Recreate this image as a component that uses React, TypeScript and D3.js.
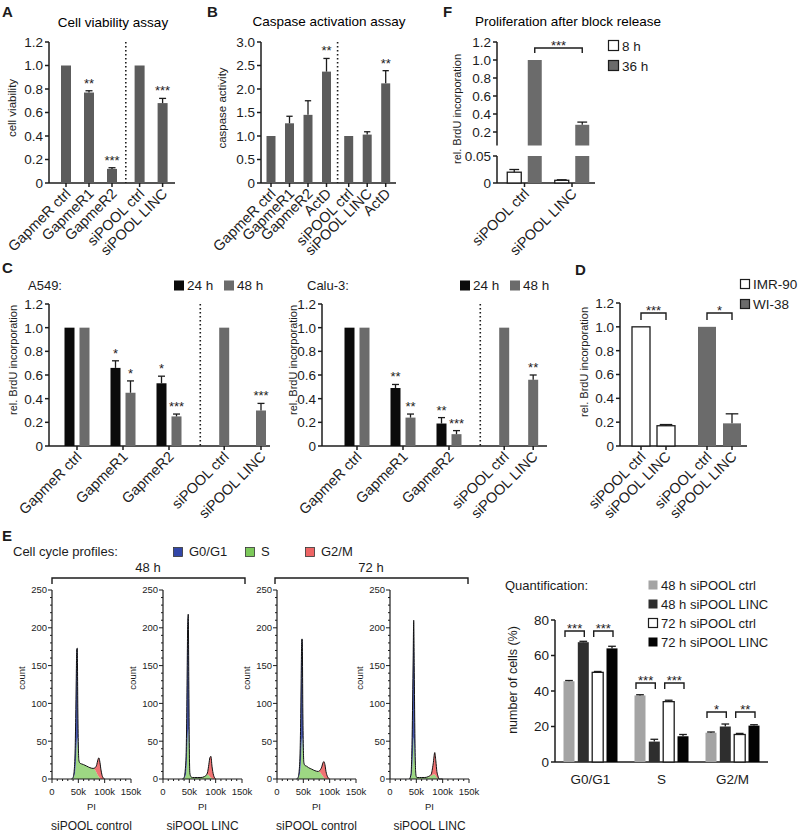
import React from "react";
import * as d3 from "d3";

const FONT = "'Liberation Sans', Arial, Helvetica, sans-serif";
const INK = "#1c1c1c";
const BAR_GRAY = "#5c5c5c";
const C_GRAY = "#6b6b6b";
const C_BLACK = "#0b0b0b";
const TICK_FS = 13.5;
const XLAB_FS = 14.5;
const SIG_FS = 13;
const AX_W = 1.5;

// ---------- Panel A ----------
const A_CATS = ["GapmeR ctrl", "GapmeR1", "GapmeR2", "siPOOL ctrl", "siPOOL LINC"];
const A_VALS = [1.0, 0.77, 0.12, 1.0, 0.68];
const A_ERRS = [0, 0.015, 0.01, 0, 0.04];
const A_SIG = ["", "**", "***", "", "***"];
const A_TICKS = [0, 0.2, 0.4, 0.6, 0.8, 1.0, 1.2];

// ---------- Panel B ----------
const B_CATS = ["GapmeR ctrl", "GapmeR1", "GapmeR2", "ActD", "siPOOL ctrl", "siPOOL LINC", "ActD"];
const B_VALS = [1.0, 1.27, 1.45, 2.37, 1.0, 1.03, 2.12];
const B_ERRS = [0, 0.15, 0.3, 0.28, 0, 0.06, 0.27];
const B_SIG = ["", "", "", "**", "", "", "**"];
const B_TICKS = [0, 0.5, 1.0, 1.5, 2.0, 2.5, 3.0];

// ---------- Panel C ----------
const C_GROUPS = ["GapmeR ctrl", "GapmeR1", "GapmeR2"];
const C_SI = ["siPOOL ctrl", "siPOOL LINC"];
const C_SERIES = ["24 h", "48 h"];
const A549_24 = [1.0, 0.66, 0.53];
const A549_24_ERR = [0, 0.06, 0.06];
const A549_24_SIG = ["", "*", "*"];
const A549_48 = [1.0, 0.45, 0.25];
const A549_48_ERR = [0, 0.1, 0.02];
const A549_48_SIG = ["", "*", "***"];
const A549_SI = [1.0, 0.3];
const A549_SI_ERR = [0, 0.06];
const A549_SI_SIG = ["", "***"];
const CALU_24 = [1.0, 0.49, 0.19];
const CALU_24_ERR = [0, 0.03, 0.05];
const CALU_24_SIG = ["", "**", "**"];
const CALU_48 = [1.0, 0.24, 0.1];
const CALU_48_ERR = [0, 0.03, 0.03];
const CALU_48_SIG = ["", "**", "***"];
const CALU_SI = [1.0, 0.56];
const CALU_SI_ERR = [0, 0.04];
const CALU_SI_SIG = ["", "**"];
const C_TICKS = [0, 0.2, 0.4, 0.6, 0.8, 1.0, 1.2];

// ---------- Panel D ----------
const D_CATS = ["siPOOL ctrl", "siPOOL LINC", "siPOOL ctrl", "siPOOL LINC"];
const D_LINES = ["IMR-90", "WI-38"];
const D_VALS = [1.0, 0.17, 1.0, 0.19];
const D_ERRS = [0, 0.01, 0, 0.08];
const D_SIG = ["***", "*"];

// ---------- Panel F ----------
const F_CATS = ["siPOOL ctrl", "siPOOL LINC"];
const F_SERIES = ["8 h", "36 h"];
const F_8H = [0.02, 0.005];
const F_8H_ERR = [0.005, 0.001];
const F_36H = [1.0, 0.28];
const F_36H_ERR = [0, 0.03];
const F_UP_TICKS = [0.2, 0.4, 0.6, 0.8, 1.0, 1.2];
const F_LOW_TICKS = [0, 0.05];

// ---------- Panel E histograms ----------
const PI_K = [37, 40, 42, 44, 45, 46, 47, 48, 49, 50, 51, 53, 56, 60, 66, 72, 78, 82, 85, 87, 89, 91, 93, 96, 100];
const H1_S = [0, 1, 4, 10, 18, 32, 48, 55, 45, 30, 24, 21, 20, 19, 17, 15, 14, 12, 8, 5, 3, 1, 0, 0, 0];
const H1_G1 = [0, 1, 6, 30, 62, 98, 124, 118, 50, 15, 1, 0, 0, 0, 0, 0, 0, 0, 0, 0, 0, 0, 0, 0, 0];
const H1_G2 = [0, 0, 0, 0, 0, 0, 0, 0, 0, 0, 0, 0, 0, 0, 0, 0, 0, 3, 11, 20, 25, 21, 12, 3, 0];
const H2_S = [0, 1, 3, 8, 20, 40, 58, 66, 50, 22, 6, 3, 2, 2, 2, 2, 3, 5, 6, 5, 3, 2, 1, 0, 0];
const H2_G1 = [0, 1, 7, 27, 60, 110, 152, 152, 80, 18, 2, 0, 0, 0, 0, 0, 0, 0, 0, 0, 0, 0, 0, 0, 0];
const H2_G2 = [0, 0, 0, 0, 0, 0, 0, 0, 0, 0, 0, 0, 0, 0, 0, 0, 0, 0, 4, 14, 25, 28, 16, 5, 0];
const H3_S = [0, 1, 4, 10, 18, 32, 50, 55, 42, 28, 20, 18, 17, 15, 13, 11, 10, 9, 6, 4, 2, 1, 0, 0, 0];
const H3_G1 = [0, 1, 6, 30, 62, 108, 135, 130, 53, 14, 2, 0, 0, 0, 0, 0, 0, 0, 0, 0, 0, 0, 0, 0, 0];
const H3_G2 = [0, 0, 0, 0, 0, 0, 0, 0, 0, 0, 0, 0, 0, 0, 0, 0, 0, 3, 10, 17, 21, 18, 10, 3, 0];
const H4_S = [0, 3, 12, 40, 55, 45, 28, 12, 5, 3, 2, 2, 2, 2, 2, 3, 4, 6, 6, 4, 2, 1, 0, 0, 0];
const H4_G1 = [0, 4, 43, 120, 155, 105, 47, 13, 2, 0, 0, 0, 0, 0, 0, 0, 0, 0, 0, 0, 0, 0, 0, 0, 0];
const H4_G2 = [0, 0, 0, 0, 0, 0, 0, 0, 0, 0, 0, 0, 0, 0, 0, 0, 2, 14, 29, 20, 8, 3, 0, 0, 0];
const H_SUBS = ["siPOOL control", "siPOOL LINC", "siPOOL control", "siPOOL LINC"];
const H_PHASES = ["G0/G1", "S", "G2/M"];
const H_Y_TICKS = [0, 50, 100, 150, 200, 250];
const H_X_TICKS = [0, 50, 100, 150];

// ---------- Panel E quantification ----------
const Q_CATS = ["G0/G1", "S", "G2/M"];
const Q_SERIES = ["48 h siPOOL ctrl", "48 h siPOOL LINC", "72 h siPOOL ctrl", "72 h siPOOL LINC"];
const Q_48C = [45.5, 37.5, 16.5];
const Q_48C_ERR = [0.4, 0.4, 0.4];
const Q_48L = [67.5, 11.5, 20];
const Q_48L_ERR = [0.5, 1.3, 1.4];
const Q_72C = [50.5, 34, 15.5];
const Q_72C_ERR = [0.5, 0.8, 0.6];
const Q_72L = [64, 14.5, 20.5];
const Q_72L_ERR = [1.2, 1.0, 0.5];
const Q_SIG_48 = ["***", "***", "*"];
const Q_SIG_72 = ["***", "***", "**"];
const Q_TICKS = [0, 20, 40, 60, 80];

const fmt1 = (t: number) => (t === 0 ? "0" : t.toFixed(1));

function YAxis({ x, y, ticks, fmt = fmt1, fs = TICK_FS, len = 4, sw = AX_W }: any) {
  const r = y.range();
  return (
    <g>
      <line x1={x} x2={x} y1={r[0]} y2={r[1]} stroke={INK} strokeWidth={sw} />
      {ticks.map((t: number) => (
        <g key={t}>
          <line x1={x - len} x2={x} y1={y(t)} y2={y(t)} stroke={INK} strokeWidth={sw} />
          <text x={x - len - 2} y={y(t)} dy="0.36em" textAnchor="end" fontSize={fs} fill={INK}>
            {fmt(t)}
          </text>
        </g>
      ))}
    </g>
  );
}

function XBase({ x0, x1, y0 }: any) {
  return <line x1={x0} x2={x1} y1={y0} y2={y0} stroke={INK} strokeWidth={AX_W} />;
}

function XRotLabels({ xs, labels, y0, fs = XLAB_FS }: any) {
  return (
    <g>
      {labels.map((l: string, i: number) => (
        <g key={i}>
          <line x1={xs[i]} x2={xs[i]} y1={y0} y2={y0 + 4} stroke={INK} strokeWidth={AX_W} />
          <text
            transform={`translate(${xs[i] + 2},${y0 + 8}) rotate(-45)`}
            dy="0.35em"
            textAnchor="end"
            fontSize={fs}
            fill={INK}
          >
            {l}
          </text>
        </g>
      ))}
    </g>
  );
}

function YLabel({ x, y, text, fs = 11 }: any) {
  return (
    <text transform={`translate(${x},${y}) rotate(-90)`} textAnchor="middle" fontSize={fs} fill={INK}>
      {text}
    </text>
  );
}

function Dotted({ x, y0, y1 }: any) {
  return <line x1={x} x2={x} y1={y0} y2={y1} stroke={INK} strokeWidth={1.6} strokeDasharray="1.5,2.5" />;
}

function Bar({ cx, bw, y, v, e = 0, fill, stroke, sig, sigFs = SIG_FS }: any) {
  const base = y(0);
  const top = y(v);
  const et = y(v + e);
  return (
    <g>
      <rect
        x={cx - bw / 2}
        y={top}
        width={bw}
        height={base - top}
        fill={fill}
        stroke={stroke || "none"}
        strokeWidth={stroke ? 1.3 : 0}
      />
      {e > 0 && (
        <g stroke={INK} strokeWidth={1.3}>
          <line x1={cx} x2={cx} y1={top} y2={et} />
          <line x1={cx - bw * 0.35} x2={cx + bw * 0.35} y1={et} y2={et} />
        </g>
      )}
      {sig && (
        <text x={cx} y={et - 3} textAnchor="middle" fontSize={sigFs} fill={INK}>
          {sig}
        </text>
      )}
    </g>
  );
}

function Bracket({ x1, x2, y, leg = 6, text, fs = SIG_FS }: any) {
  return (
    <g>
      <path d={`M${x1},${y + leg}V${y}H${x2}V${y + leg}`} fill="none" stroke={INK} strokeWidth={1.4} />
      <text x={(x1 + x2) / 2} y={y + 1.5} textAnchor="middle" fontSize={fs} fill={INK}>
        {text}
      </text>
    </g>
  );
}

function Letter({ x, y, t }: any) {
  return (
    <text x={x} y={y} fontSize={15} fontWeight="bold" fill={INK}>
      {t}
    </text>
  );
}

function PanelA() {
  const y = d3.scaleLinear().domain([0, 1.2]).range([183, 42]);
  const slot = d3.scaleLinear().domain([0, 1]).range([66, 89]);
  const pos = [0, 1, 2, 3.2, 4.2];
  const xs = pos.map((p) => slot(p));
  return (
    <g>
      <Letter x={2} y={17} t="A" />
      <text x={113} y={27} fontSize={13.5} textAnchor="middle">Cell viability assay</text>
      <YLabel x={16} y={108} text="cell viability" fs={11.5} />
      <YAxis x={49} y={y} ticks={A_TICKS} />
      <XBase x0={49} x1={175} y0={y(0)} />
      <Dotted x={slot(2.6)} y0={y(1.2)} y1={y(0)} />
      {A_VALS.map((v, i) => (
        <Bar key={i} cx={xs[i]} bw={10} y={y} v={v} e={A_ERRS[i]} fill={BAR_GRAY} sig={A_SIG[i]} />
      ))}
      <XRotLabels xs={xs} labels={A_CATS} y0={y(0)} />
    </g>
  );
}

function PanelB() {
  const y = d3.scaleLinear().domain([0, 3.0]).range([183, 42]);
  const slot = d3.scaleLinear().domain([0, 1]).range([271, 289.5]);
  const pos = [0, 1, 2, 3, 4.2, 5.2, 6.2];
  const xs = pos.map((p) => slot(p));
  return (
    <g>
      <Letter x={207} y={17} t="B" />
      <text x={329} y={26} fontSize={13.5} textAnchor="middle">Caspase activation assay</text>
      <YLabel x={226} y={108} text="caspase activity" fs={11.5} />
      <YAxis x={261} y={y} ticks={B_TICKS} />
      <XBase x0={261} x1={396} y0={y(0)} />
      <Dotted x={slot(3.6)} y0={y(3.0)} y1={y(0)} />
      {B_VALS.map((v, i) => (
        <Bar key={i} cx={xs[i]} bw={9} y={y} v={v} e={B_ERRS[i]} fill={BAR_GRAY} sig={B_SIG[i]} />
      ))}
      <XRotLabels xs={xs} labels={B_CATS} y0={y(0)} />
    </g>
  );
}

function CLegend({ x, y }: any) {
  return (
    <g>
      {C_SERIES.map((s, i) => (
        <g key={s} transform={`translate(${x + i * 50},${y})`}>
          <rect x={0} y={-9.5} width={10} height={10} fill={i === 0 ? C_BLACK : C_GRAY} />
          <text x={13} y={0} fontSize={13.5} fill={INK}>{s}</text>
        </g>
      ))}
    </g>
  );
}

function CPanel({ name, ax, axEnd, c0, v24, e24, s24, v48, e48, s48, vsi, esi, ssi, siPos, legendX, labelX }: any) {
  const y = d3.scaleLinear().domain([0, 1.2]).range([446, 304]);
  const slot = d3.scaleLinear().domain([0, 1]).range([c0, c0 + 46]);
  const off = 7.5;
  const gx = C_GROUPS.map((_, i) => slot(i));
  const sx = siPos.map((p: number) => slot(p));
  return (
    <g>
      <text x={name.x} y={290} fontSize={13} fill={INK}>{name.t}</text>
      <CLegend x={legendX} y={290} />
      <YLabel x={labelX} y={360} text="rel. BrdU incorporation" />
      <YAxis x={ax} y={y} ticks={C_TICKS} />
      <XBase x0={ax} x1={axEnd} y0={y(0)} />
      <Dotted x={slot(2.68)} y0={y(1.2)} y1={y(0)} />
      {v24.map((v: number, i: number) => (
        <Bar key={"a" + i} cx={gx[i] - off} bw={10} y={y} v={v} e={e24[i]} fill={C_BLACK} sig={s24[i]} />
      ))}
      {v48.map((v: number, i: number) => (
        <Bar key={"b" + i} cx={gx[i] + off} bw={10} y={y} v={v} e={e48[i]} fill={C_GRAY} sig={s48[i]} />
      ))}
      {vsi.map((v: number, i: number) => (
        <Bar key={"c" + i} cx={sx[i]} bw={10} y={y} v={v} e={esi[i]} fill={C_GRAY} sig={ssi[i]} />
      ))}
      <XRotLabels xs={[...gx, ...sx]} labels={[...C_GROUPS, ...C_SI]} y0={y(0)} />
    </g>
  );
}

function PanelD() {
  const y = d3.scaleLinear().domain([0, 1.2]).range([446, 303]);
  const slot = d3.scaleLinear().domain([0, 1]).range([653.5, 719.5]);
  const xs = [slot(0) - 12.5, slot(0) + 12.5, slot(1) - 12.5, slot(1) + 12.5];
  return (
    <g>
      <Letter x={575} y={275} t="D" />
      {D_LINES.map((l, i) => (
        <g key={l}>
          <rect x={740.5} y={279.5 + i * 20} width={9} height={9} fill={i === 0 ? "#fff" : C_GRAY} stroke={INK} strokeWidth={1.2} />
          <text x={753} y={288.5 + i * 20} fontSize={13.5} fill={INK}>{l}</text>
        </g>
      ))}
      <YLabel x={588} y={362} text="rel. BrdU incorporation" />
      <YAxis x={620} y={y} ticks={C_TICKS} />
      <XBase x0={620} x1={747} y0={y(0)} />
      {D_VALS.map((v, i) => (
        <Bar
          key={i}
          cx={xs[i]}
          bw={18}
          y={y}
          v={v}
          e={D_ERRS[i]}
          fill={i < 2 ? "#fff" : C_GRAY}
          stroke={i < 2 ? INK : undefined}
        />
      ))}
      {D_SIG.map((s, g) => (
        <Bracket key={g} x1={xs[g * 2]} x2={xs[g * 2 + 1]} y={313} leg={7} text={s} />
      ))}
      <XRotLabels xs={xs} labels={D_CATS} y0={y(0)} />
    </g>
  );
}

function PanelF() {
  const yU = d3.scaleLinear().domain([0.05, 1.2]).range([145.5, 42]);
  const yL = d3.scaleLinear().domain([0, 0.05]).range([183, 156]);
  const slot = d3.scaleLinear().domain([0, 1]).range([524.5, 572]);
  const gx = F_CATS.map((_, i) => slot(i));
  const off = 10.25;
  const bw = 14;
  const errG = (cx: number, y0: number, y1: number) => (
    <g key="e" stroke={INK} strokeWidth={1.3}>
      <line x1={cx} x2={cx} y1={y0} y2={y1} />
      <line x1={cx - bw * 0.35} x2={cx + bw * 0.35} y1={y1} y2={y1} />
    </g>
  );
  const drawBar = (cx: number, v: number, e: number, fill: string, stroke?: string) => {
    const parts: any[] = [];
    const sw = stroke ? 1.3 : 0;
    if (v <= 0.05) {
      parts.push(<rect key="l" x={cx - bw / 2} y={yL(v)} width={bw} height={yL(0) - yL(v)} fill={fill} stroke={stroke || "none"} strokeWidth={sw} />);
      if (e > 0) parts.push(errG(cx, yL(v), yL(v + e)));
    } else {
      parts.push(<rect key="l" x={cx - bw / 2} y={yL(0.05)} width={bw} height={yL(0) - yL(0.05)} fill={fill} />);
      parts.push(<rect key="u" x={cx - bw / 2} y={yU(v)} width={bw} height={yU(0.05) - yU(v)} fill={fill} />);
      if (e > 0) parts.push(errG(cx, yU(v), yU(v + e)));
    }
    return parts;
  };
  return (
    <g>
      <Letter x={443} y={17} t="F" />
      <text x={568} y={26} fontSize={13.5} textAnchor="middle">Proliferation after block release</text>
      <YLabel x={461} y={109} text="rel. BrdU incorporation" />
      <YAxis x={497} y={yU} ticks={F_UP_TICKS} />
      <YAxis x={497} y={yL} ticks={F_LOW_TICKS} fmt={(t: number) => (t === 0 ? "0" : "0.05")} />
      <XBase x0={497} x1={595} y0={yL(0)} />
      {gx.map((cx, i) => (
        <g key={i}>
          {drawBar(cx - off, F_8H[i], F_8H_ERR[i], "#fff", INK)}
          {drawBar(cx + off, F_36H[i], F_36H_ERR[i], C_GRAY)}
        </g>
      ))}
      <Bracket x1={gx[0] + off} x2={gx[1] + off} y={48} leg={5} text="***" />
      {F_SERIES.map((s, i) => (
        <g key={s}>
          <rect x={608.5} y={40.5 + i * 20} width={10} height={10} fill={i === 0 ? "#fff" : C_GRAY} stroke={INK} strokeWidth={1.2} />
          <text x={622} y={50.5 + i * 20} fontSize={13.5} fill={INK}>{s}</text>
        </g>
      ))}
      <XRotLabels xs={gx} labels={F_CATS} y0={yL(0)} />
    </g>
  );
}

const PHASE_COLORS = ["#7cc95a", "#3246a8", "#ee6464"];

function Hist({ ax, S, G1, G2, sub }: any) {
  const x = d3.scaleLinear().domain([0, 150]).range([ax, ax + 79]);
  const y = d3.scaleLinear().domain([0, 250]).range([779, 590]);
  const rows = PI_K.map((k, i) => ({ k, S: S[i], G1: G1[i], G2: G2[i] }));
  const stack = d3.stack<any>().keys(["S", "G1", "G2"])(rows);
  const area = d3
    .area<any>()
    .x((d) => x(d.data.k))
    .y0((d) => y(d[0]))
    .y1((d) => y(d[1]))
    .curve(d3.curveMonotoneX);
  const top = d3
    .line<any>()
    .x((d) => x(d.data.k))
    .y((d) => y(d[1]))
    .curve(d3.curveMonotoneX);
  const minorY = d3.range(0, 251, 10);
  const minorX = d3.range(0, 151, 10);
  return (
    <g>
      {stack.map((layer, li) => (
        <path key={li} d={area(layer) || ""} fill={PHASE_COLORS[li]} fillOpacity={li === 0 ? 0.75 : 0.9} />
      ))}
      <path d={top(stack[2]) || ""} fill="none" stroke="#111" strokeWidth={1} />
      <line x1={ax} x2={ax} y1={779} y2={590} stroke={INK} strokeWidth={1.2} />
      <line x1={ax} x2={ax + 79} y1={779} y2={779} stroke={INK} strokeWidth={1.2} />
      {minorY.map((t) => (
        <line key={t} x1={ax - (t % 50 === 0 ? 4 : 2)} x2={ax} y1={y(t)} y2={y(t)} stroke={INK} strokeWidth={1} />
      ))}
      {minorX.map((t) => (
        <line key={t} x1={x(t)} x2={x(t)} y1={779} y2={779 + (t % 50 === 0 ? 4 : 2)} stroke={INK} strokeWidth={1} />
      ))}
      {H_Y_TICKS.map((t) => (
        <text key={t} x={ax - 5} y={y(t)} dy="0.36em" textAnchor="end" fontSize={9.5} fill={INK}>{t}</text>
      ))}
      {H_X_TICKS.map((t) => (
        <text key={t} x={x(t)} y={795} textAnchor="middle" fontSize={9.5} fill={INK}>{t === 0 ? "0" : t + "k"}</text>
      ))}
      <YLabel x={ax - 27} y={678} text="count" fs={9.5} />
      <text x={ax + 39.5} y={810} textAnchor="middle" fontSize={9.5} fill={INK}>PI</text>
      <text x={ax + 39.5} y={830} textAnchor="middle" fontSize={12} fill={INK}>{sub}</text>
    </g>
  );
}

function PanelEHist() {
  const axes = [52, 163, 277, 390];
  const data = [
    [H1_S, H1_G1, H1_G2],
    [H2_S, H2_G1, H2_G2],
    [H3_S, H3_G1, H3_G2],
    [H4_S, H4_G1, H4_G2],
  ];
  const legendX = [173, 245, 305];
  const legendOrder = [1, 0, 2];
  return (
    <g>
      <Letter x={2} y={541} t="E" />
      <text x={13} y={556} fontSize={13} fill={INK}>Cell cycle profiles:</text>
      {H_PHASES.map((p, i) => (
        <g key={p}>
          <rect x={legendX[i] + 0.5} y={547.5} width={9} height={9} fill={PHASE_COLORS[legendOrder[i]]} stroke="#333" strokeWidth={0.8} />
          <text x={legendX[i] + 16} y={556} fontSize={13} fill={INK}>{p}</text>
        </g>
      ))}
      <Bracket x1={52} x2={245} y={578} leg={6} text="" />
      <text x={148} y={572} textAnchor="middle" fontSize={13} fill={INK}>48 h</text>
      <Bracket x1={275} x2={468} y={578} leg={6} text="" />
      <text x={371} y={572} textAnchor="middle" fontSize={13} fill={INK}>72 h</text>
      {axes.map((ax, i) => (
        <Hist key={i} ax={ax} S={data[i][0]} G1={data[i][1]} G2={data[i][2]} sub={H_SUBS[i]} />
      ))}
    </g>
  );
}

function PanelEQuant() {
  const y = d3.scaleLinear().domain([0, 80]).range([762, 620]);
  const slot = d3.scaleLinear().domain([0, 1]).range([590.5, 661.5]);
  const gx = Q_CATS.map((_, i) => slot(i));
  const series = [
    { v: Q_48C, e: Q_48C_ERR, fill: "#a4a4a4", stroke: undefined },
    { v: Q_48L, e: Q_48L_ERR, fill: "#2e2e2e", stroke: undefined },
    { v: Q_72C, e: Q_72C_ERR, fill: "#fff", stroke: INK },
    { v: Q_72L, e: Q_72L_ERR, fill: "#030303", stroke: undefined },
  ];
  const offs = [-21.5, -7.2, 7.2, 21.5];
  const bracketY = [631, 683, 712];
  return (
    <g>
      <text x={505} y={590} fontSize={13} fill={INK}>Quantification:</text>
      {Q_SERIES.map((s, i) => (
        <g key={s}>
          <rect x={648.5} y={580.5 + i * 19} width={9} height={9} fill={series[i].fill} stroke={i === 2 ? INK : "none"} strokeWidth={1.2} />
          <text x={661} y={589.5 + i * 19} fontSize={13} fill={INK}>{s}</text>
        </g>
      ))}
      <YLabel x={517} y={680} text="number of cells (%)" fs={12.5} />
      <YAxis x={555} y={y} ticks={Q_TICKS} fmt={(t: number) => String(t)} />
      <XBase x0={555} x1={768} y0={y(0)} />
      {gx.map((cx, gi) => (
        <g key={gi}>
          {series.map((s, si) => (
            <Bar key={si} cx={cx + offs[si]} bw={11} y={y} v={s.v[gi]} e={s.e[gi]} fill={s.fill} stroke={s.stroke} />
          ))}
          <Bracket x1={cx + offs[0] - 4} x2={cx + offs[1] + 1} y={bracketY[gi]} leg={6} text={Q_SIG_48[gi]} />
          <Bracket x1={cx + offs[2] - 4} x2={cx + offs[3] + 1} y={bracketY[gi]} leg={6} text={Q_SIG_72[gi]} />
          <text x={cx} y={784} textAnchor="middle" fontSize={13.5} fill={INK}>{Q_CATS[gi]}</text>
        </g>
      ))}
    </g>
  );
}

export default function App() {
  return (
    <svg
      width={800}
      height={833}
      style={{ position: "absolute", left: 0, top: 0, background: "#fff" }}
      fontFamily={FONT}
    >
      <rect width={800} height={833} fill="#fff" />
      <PanelA />
      <PanelB />
      <PanelF />
      <Letter x={2} y={273} t="C" />
      <CPanel
        name={{ x: 28, t: "A549:" }}
        ax={49}
        axEnd={270}
        c0={77}
        v24={A549_24}
        e24={A549_24_ERR}
        s24={A549_24_SIG}
        v48={A549_48}
        e48={A549_48_ERR}
        s48={A549_48_SIG}
        vsi={A549_SI}
        esi={A549_SI_ERR}
        ssi={A549_SI_SIG}
        siPos={[3.2, 4.0]}
        legendX={174}
        labelX={17}
      />
      <CPanel
        name={{ x: 307, t: "Calu-3:" }}
        ax={322}
        axEnd={547}
        c0={357}
        v24={CALU_24}
        e24={CALU_24_ERR}
        s24={CALU_24_SIG}
        v48={CALU_48}
        e48={CALU_48_ERR}
        s48={CALU_48_SIG}
        vsi={CALU_SI}
        esi={CALU_SI_ERR}
        ssi={CALU_SI_SIG}
        siPos={[3.2, 3.83]}
        legendX={460}
        labelX={297}
      />
      <PanelD />
      <PanelEHist />
      <PanelEQuant />
    </svg>
  );
}
